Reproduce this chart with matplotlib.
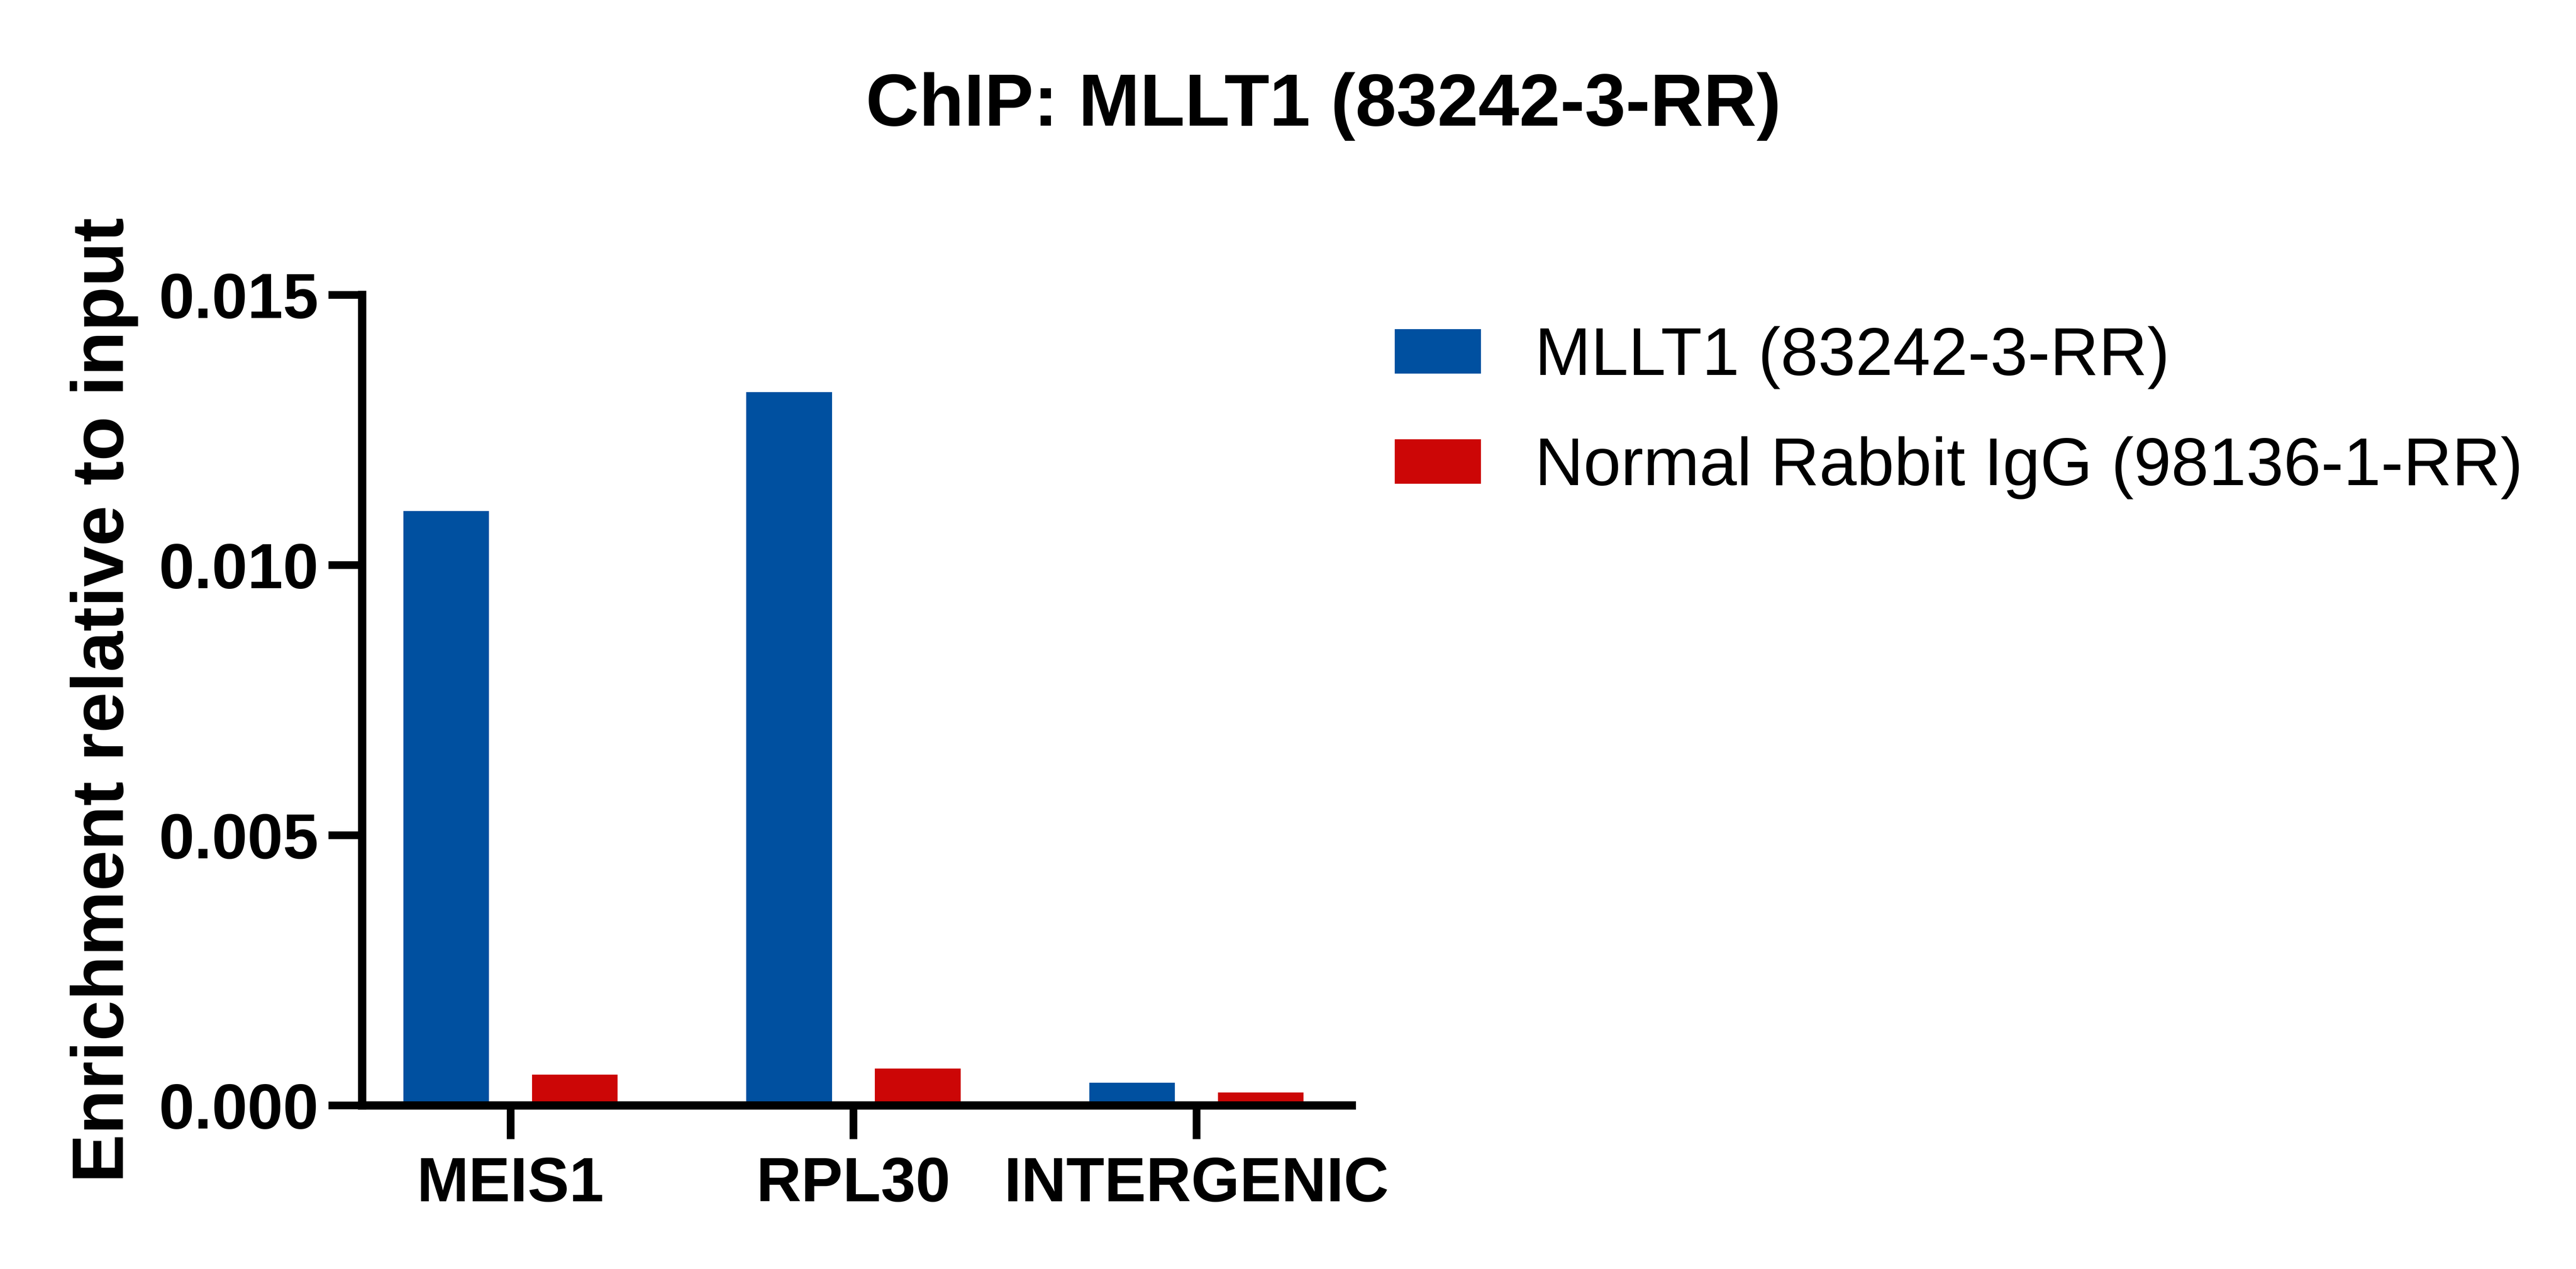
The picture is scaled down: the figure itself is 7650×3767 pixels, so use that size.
import numpy as np
import matplotlib
matplotlib.use("Agg")
import matplotlib.pyplot as plt

# --- Data ---
categories = ["MEIS1", "RPL30", "INTERGENIC"]
series_names = ["MLLT1 (83242-3-RR)", "Normal Rabbit IgG (98136-1-RR)"]
mllt1 = [0.0110, 0.0132, 0.00042]
igg = [0.00057, 0.00068, 0.00024]
yticks = [0.000, 0.005, 0.010, 0.015]
ytick_labels = ["0.000", "0.005", "0.010", "0.015"]

blue = "#0050A0"
red = "#CC0606"

plt.rcParams["font.family"] = ["Liberation Sans", "DejaVu Sans"]

fig = plt.figure(figsize=(25.5, 3767 / 300), dpi=300)
ax = fig.add_axes([0.1405, 0.1290, 0.3842, 0.6387])

x = np.arange(len(categories))
largeur = 0.25
b1 = ax.bar(x - 0.1875, mllt1, largeur, color=blue, label=series_names[0])
b2 = ax.bar(x + 0.1875, igg, largeur, color=red, label=series_names[1])

ax.set_xlim(-0.433, 2.4526)
ax.set_ylim(0, 0.015)
ax.set_yticks(yticks)
ax.set_yticklabels(ytick_labels)
ax.set_xticks(x)
ax.set_xticklabels(categories)

for s in ["top", "right"]:
    ax.spines[s].set_visible(False)
for s in ["left", "bottom"]:
    ax.spines[s].set_linewidth(5.9)
    ax.spines[s].set_capstyle("projecting")

ax.tick_params(axis="both", width=5.5, length=24, color="black")
ax.tick_params(axis="y", labelsize=45.5, pad=7)
ax.tick_params(axis="x", labelsize=44.5, pad=12)
for lab in ax.get_xticklabels() + ax.get_yticklabels():
    lab.set_fontweight("bold")

ax.set_ylabel("Enrichment relative to input", fontsize=52, fontweight="bold")
ax.yaxis.set_label_coords(-0.226, 0.5)

fig.text(0.5137, 0.901, "ChIP: MLLT1 (83242-3-RR)", fontsize=52.5,
         fontweight="bold", ha="center", va="baseline")

fig.legend(handles=[b1, b2], loc="upper left", bbox_to_anchor=(0.5414, 0.743),
           frameon=False, fontsize=48, borderpad=0, borderaxespad=0,
           handlelength=1.28, handleheight=0.64, handletextpad=0.8,
           labelspacing=0.7)

fig.savefig("out.png", dpi=300)
